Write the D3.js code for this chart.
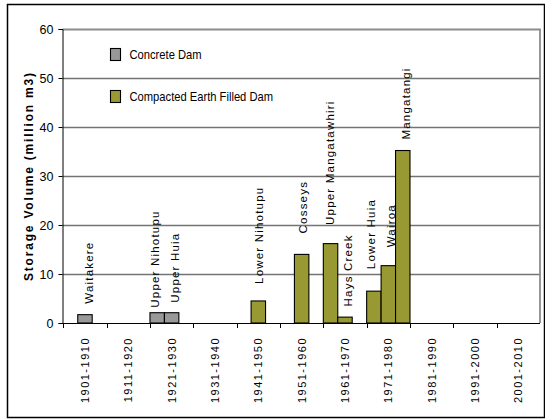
<!DOCTYPE html>
<html>
<head>
<meta charset="utf-8">
<script src="https://cdn.jsdelivr.net/npm/d3@7"></script>
<style>
  html, body { margin: 0; padding: 0; background: #fff; }
  svg { display: block; }
</style>
</head>
<body>
<svg id="chart" width="545" height="419"></svg>
<script>
// Decades along the x axis
const decades = ["1901-1910", "1911-1920", "1921-1930", "1931-1940", "1941-1950",
  "1951-1960", "1961-1970", "1971-1980", "1981-1990", "1991-2000", "2001-2010"];

// Dams, the decade they were built in, their type and storage (million m3)
const dams = ["Waitakere", "Upper Nihotupu", "Upper Huia", "Lower Nihotupu", "Cosseys",
  "Upper Mangatawhiri", "Hays Creek", "Lower Huia", "Wairoa", "Mangatangi"];
const damDecade = ["1901-1910", "1921-1930", "1921-1930", "1941-1950", "1951-1960",
  "1961-1970", "1961-1970", "1971-1980", "1971-1980", "1971-1980"];
const damSeries = [1, 0, 1, 1, 1, 0, 1, 0, 1, 2];
const damType = ["Concrete Dam", "Concrete Dam", "Concrete Dam",
  "Compacted Earth Filled Dam", "Compacted Earth Filled Dam", "Compacted Earth Filled Dam",
  "Compacted Earth Filled Dam", "Compacted Earth Filled Dam", "Compacted Earth Filled Dam",
  "Compacted Earth Filled Dam"];
const storage = [1.7, 2.1, 2.1, 4.5, 14.0, 16.2, 1.2, 6.5, 11.7, 35.2];

const damTypes = ["Concrete Dam", "Compacted Earth Filled Dam"];
const yTicks = [0, 10, 20, 30, 40, 50, 60];
const yTitle = "Storage Volume (million m3)";

// Hand-placed label offsets: [shift right of bar centre, lift above bar top] in px
const labelNudge = [[8, 11], [2, 5], [7.5, 10], [4.5, 17], [5.3, 21],
  [3.7, 18.7], [7, 10.7], [1, 22], [6.3, 18.4], [7.5, 11]];

const svg = d3.select("#chart");

// outer frame
svg.append("rect")
  .attr("x", 7.5).attr("y", 4.5).attr("width", 537).attr("height", 413)
  .attr("fill", "#fff").attr("stroke", "#000").attr("stroke-width", 1.5);

const plot = { left: 62.5, right: 540, top: 29, bottom: 323 };

const x = d3.scaleBand().domain(decades).range([plot.left + 0.8, plot.right]).padding(0);
const slot = d3.scaleBand().domain([0, 1, 2]).range([0, x.bandwidth()]).padding(0);
const y = d3.scaleLinear().domain([0, 60]).range([plot.bottom, plot.top]);
const colour = d3.scaleOrdinal().domain(damTypes).range(["#999999", "#999933"]);

// horizontal gridlines
svg.append("g").selectAll("line")
  .data(yTicks.filter(t => t > 0 && t < 60))
  .join("line")
  .attr("x1", plot.left).attr("x2", plot.right)
  .attr("y1", d => Math.round(y(d)) + 0.5).attr("y2", d => Math.round(y(d)) + 0.5)
  .attr("stroke", "#737373").attr("stroke-width", 1.5);

// plot area border (top and right)
svg.append("path")
  .attr("d", `M${plot.left},${plot.top + 0.5}H${plot.right}V${plot.bottom}`)
  .attr("fill", "none").attr("stroke", "#8c8c8c").attr("stroke-width", 1.8);

// bars
svg.append("g").selectAll("rect")
  .data(dams.map((d, i) => i))
  .join("rect")
  .attr("x", i => x(damDecade[i]) + slot(damSeries[i]))
  .attr("width", slot.bandwidth())
  .attr("y", i => y(storage[i]))
  .attr("height", i => y(0) - y(storage[i]))
  .attr("fill", i => colour(damType[i]))
  .attr("stroke", "#000").attr("stroke-width", 1.1);

// dam name labels
svg.append("g").selectAll("text")
  .data(dams.map((d, i) => i))
  .join("text")
  .attr("transform", i => {
    const cx = x(damDecade[i]) + slot(damSeries[i]) + slot.bandwidth() / 2 + labelNudge[i][0];
    const cy = y(storage[i]) - labelNudge[i][1];
    return `translate(${cx},${cy}) rotate(-90)`;
  })
  .attr("font-family", "'Liberation Sans', Arial, sans-serif")
  .attr("font-size", 11.5)
  .attr("letter-spacing", 1.2)
  .attr("fill", "#000")
  .text(i => dams[i]);

// y axis
const yAxis = svg.append("g").attr("transform", `translate(${plot.left},0)`)
  .call(d3.axisLeft(y).tickValues(yTicks).tickSize(4).tickPadding(5).tickFormat(d3.format("d")));
yAxis.select(".domain").attr("stroke", "#000");
yAxis.selectAll(".tick line").attr("stroke", "#000");
yAxis.selectAll(".tick text")
  .attr("font-family", "'Liberation Sans', Arial, sans-serif")
  .attr("font-size", 12.5).attr("fill", "#000");

// x axis line
const xAxis = svg.append("g").attr("transform", `translate(0,${plot.bottom + 0.5})`)
  .call(d3.axisBottom(x).tickSize(0).tickFormat(""));
xAxis.select(".domain").attr("stroke", "#000").attr("d", `M${plot.left},0H${plot.right}`);
xAxis.selectAll(".tick").remove();

// category boundary ticks
svg.append("g").selectAll("line")
  .data(decades)
  .join("line")
  .attr("x1", d => Math.round(x(d)) + 0.5).attr("x2", d => Math.round(x(d)) + 0.5)
  .attr("y1", plot.bottom).attr("y2", plot.bottom + 5)
  .attr("stroke", "#000");

// decade labels
svg.append("g").selectAll("text")
  .data(decades)
  .join("text")
  .attr("transform", d => `translate(${x(d) + x.bandwidth() / 2 + 4},${plot.bottom + 14}) rotate(-90)`)
  .attr("text-anchor", "end")
  .attr("font-family", "'Liberation Sans', Arial, sans-serif")
  .attr("font-size", 11)
  .attr("letter-spacing", 1.5)
  .attr("fill", "#000")
  .text(d => d);

// y axis title
const title = svg.append("text")
  .attr("transform", `translate(33,177) rotate(-90)`)
  .attr("text-anchor", "middle")
  .attr("font-family", "'Liberation Sans', Arial, sans-serif")
  .attr("font-size", 12).attr("font-weight", "bold")
  .attr("fill", "#000")
  .text(yTitle);
title.attr("textLength", 208).attr("lengthAdjust", "spacing");

// legend
const legend = svg.append("g").selectAll("g")
  .data(damTypes)
  .join("g")
  .attr("transform", (d, i) => `translate(110.5,${48.5 + i * 42})`);
legend.append("rect")
  .attr("width", 10).attr("height", 12)
  .attr("fill", d => colour(d)).attr("stroke", "#000").attr("stroke-width", 1.1);
legend.append("text")
  .attr("x", 19).attr("y", 10.5)
  .attr("font-family", "'Liberation Sans', Arial, sans-serif")
  .attr("font-size", 13)
  .attr("fill", "#000")
  .text(d => d)
  .each(function () {
    // condensed face: squeeze the natural width
    const w = this.getComputedTextLength();
    d3.select(this).attr("textLength", w * 0.86).attr("lengthAdjust", "spacingAndGlyphs");
  });
</script>
</body>
</html>
